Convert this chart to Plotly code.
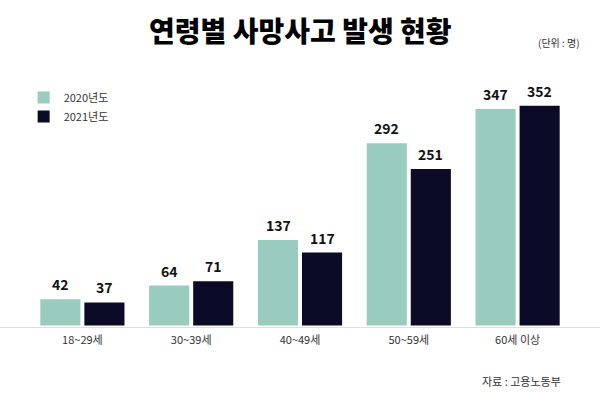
import plotly.graph_objects as go

categories = ["18~29세", "30~39세", "40~49세", "50~59세", "60세 이상"]
series_names = ["2020년도", "2021년도"]
values_2020 = [42, 64, 137, 292, 347]
values_2021 = [37, 71, 117, 251, 352]

colors = ["#99cbbf", "#0b0b28"]
FONT = "Noto Sans CJK KR"
TITLE_FONT = "Noto Sans CJK KR Black, Noto Sans CJK KR"

fig = go.Figure()
for name, vals, col in zip(series_names, [values_2020, values_2021], colors):
    fig.add_trace(go.Bar(
        x=categories, y=vals, name=name,
        marker=dict(color=col, line=dict(width=0)),
        offsetgroup=name,
    ))

# value labels
annotations = []
for i, (vals, xshift) in enumerate([(values_2020, -22), (values_2021, 22)]):
    for c, v in zip(categories, vals):
        annotations.append(dict(
            x=c, y=v, xref="x", yref="y", text=f"<b>{v}</b>", showarrow=False,
            xshift=xshift, yanchor="bottom", yshift=3,
            font=dict(family=FONT, size=14, color="#111111"),
        ))

annotations.append(dict(
    text="<b>연령별 사망사고 발생 현황</b>", xref="paper", yref="paper",
    x=0.5, y=1, xanchor="center", yanchor="middle", yshift=30,
    showarrow=False, font=dict(family=TITLE_FONT, size=28, color="#000000"),
))
annotations.append(dict(
    text="(단위 : 명)", xref="paper", yref="paper", x=1, y=1, xanchor="right",
    yanchor="middle", xshift=10, yshift=18, showarrow=False,
    font=dict(family=FONT, size=10, color="#333333"),
))
annotations.append(dict(
    text="자료 : 고용노동부", xref="paper", yref="paper", x=1, y=0, xanchor="right",
    yanchor="middle", xshift=-9, yshift=-53, showarrow=False,
    font=dict(family=FONT, size=11, color="#333333"),
))

fig.update_layout(
    width=600, height=394,
    margin=dict(l=28, r=28, t=60, b=66),
    paper_bgcolor="white", plot_bgcolor="white",
    barmode="group", bargap=0.19, bargroupgap=0.09,
    font=dict(family=FONT, size=11, color="#333333"),
    showlegend=True,
    legend=dict(
        x=-0.008, y=0.914, xanchor="left", yanchor="top",
        font=dict(family=FONT, size=11, color="#333333"),
        bgcolor="rgba(0,0,0,0)", tracegroupgap=0,
    ),
    xaxis=dict(showgrid=False, zeroline=False, showline=False, ticks="",
               ticklabelstandoff=4,
               tickfont=dict(family=FONT, size=11, color="#333333")),
    yaxis=dict(range=[-4, 425.5], visible=False, showgrid=False, zeroline=False),
    annotations=annotations,
    shapes=[dict(type="line", xref="paper", yref="y", x0=-0.06, x1=1.06,
                 y0=-4, y1=-4, line=dict(color="#d3d3d3", width=1.5))],
)

fig.write_html("out.html", config={"displayModeBar": False},
               post_script="document.body.style.margin='0';document.body.style.padding='0';")
